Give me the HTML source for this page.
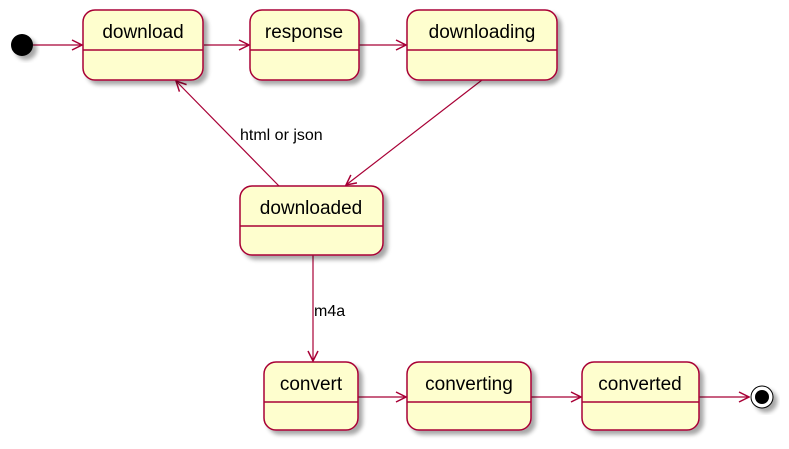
<!DOCTYPE html>
<html><head><style>body{margin:0;background:#fff}</style></head><body>
<svg width="789" height="444" xmlns="http://www.w3.org/2000/svg" font-family="Liberation Sans, sans-serif">
<defs>
<filter id="sh" x="-20%" y="-20%" width="150%" height="150%"><feGaussianBlur in="SourceAlpha" stdDeviation="2"/><feOffset dx="4" dy="4"/><feComponentTransfer><feFuncA type="linear" slope="0.35"/></feComponentTransfer><feMerge><feMergeNode/><feMergeNode in="SourceGraphic"/></feMerge></filter>
<marker id="a" viewBox="0 0 12 12" refX="11" refY="6" markerWidth="12" markerHeight="12" markerUnits="userSpaceOnUse" orient="auto"><path d="M1,1 L11,6 L1,11" fill="none" stroke="#A80036" stroke-width="1.5"/></marker>
</defs>
<g stroke="#A80036" stroke-width="1.2" fill="none">
<line x1="33" y1="45" x2="82" y2="45" marker-end="url(#a)"/>
<line x1="204" y1="45" x2="249" y2="45" marker-end="url(#a)"/>
<line x1="359" y1="45" x2="406" y2="45" marker-end="url(#a)"/>
<line x1="482" y1="80" x2="346" y2="185" marker-end="url(#a)"/>
<line x1="279" y1="186" x2="176" y2="81" marker-end="url(#a)"/>
<line x1="313" y1="255" x2="313" y2="361" marker-end="url(#a)"/>
<line x1="358" y1="397" x2="406" y2="397" marker-end="url(#a)"/>
<line x1="531" y1="397" x2="581" y2="397" marker-end="url(#a)"/>
<line x1="699" y1="397" x2="749" y2="397" marker-end="url(#a)"/>
</g>
<circle cx="22" cy="45" r="11" fill="#000" filter="url(#sh)"/>
<g filter="url(#sh)"><circle cx="762" cy="397" r="11" fill="#fff" stroke="#000" stroke-width="1"/><circle cx="762" cy="397" r="7" fill="#000"/></g>
<g fill="#FEFECE" stroke="#A80036" stroke-width="1.5">
<rect x="83" y="10" width="120" height="70" rx="12" filter="url(#sh)"/>
<rect x="250" y="10" width="109" height="70" rx="12" filter="url(#sh)"/>
<rect x="407" y="10" width="150" height="70" rx="12" filter="url(#sh)"/>
<rect x="240" y="186" width="143" height="69" rx="12" filter="url(#sh)"/>
<rect x="264" y="362" width="94" height="68" rx="12" filter="url(#sh)"/>
<rect x="407" y="362" width="124" height="68" rx="12" filter="url(#sh)"/>
<rect x="582" y="362" width="117" height="68" rx="12" filter="url(#sh)"/>
</g>
<g stroke="#A80036" stroke-width="1.5">
<line x1="83" y1="50" x2="203" y2="50"/>
<line x1="250" y1="50" x2="359" y2="50"/>
<line x1="407" y1="50" x2="557" y2="50"/>
<line x1="240" y1="226" x2="383" y2="226"/>
<line x1="264" y1="402" x2="358" y2="402"/>
<line x1="407" y1="402" x2="531" y2="402"/>
<line x1="582" y1="402" x2="699" y2="402"/>
</g>
<g font-size="19" fill="#000" text-anchor="middle">
<text x="143" y="38">download</text>
<text x="304" y="38">response</text>
<text x="482" y="38">downloading</text>
<text x="311" y="214">downloaded</text>
<text x="311" y="390">convert</text>
<text x="469" y="390">converting</text>
<text x="640" y="390">converted</text>
</g>
<g font-size="16" fill="#000">
<text x="240" y="140">html or json</text>
<text x="314" y="316">m4a</text>
</g>
</svg>
</body></html>
